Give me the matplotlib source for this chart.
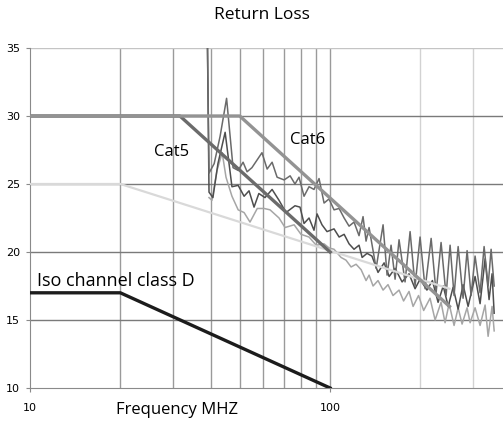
import matplotlib
matplotlib.use("Agg")
import matplotlib.pyplot as plt
from matplotlib.ticker import FixedLocator, NullLocator

# limit lines (frequency MHz, return loss dB)
cat6_freq = [10, 50, 250]
cat6_db = [30, 30, 16.0]
cat5_freq = [10, 31.6, 100]
cat5_db = [30, 30, 20]
light_freq = [10, 20, 250]
light_db = [25, 25, 17.3]
iso_d_freq = [10, 20, 100]
iso_d_db = [17, 17, 10]

# measured traces
t1_freq = [39.0, 39.5, 41.1, 43.0, 45.2, 47.5, 49.4, 51.3, 52.9, 54.9,
           59.3, 61.7, 64.1, 66.6, 70.3, 73.6, 76.4, 78.8, 81.9, 85.1,
           88.4, 91.9, 95.5, 99.2, 103.1, 107.2, 111.4, 115.7, 120.2, 124.9,
           128.8, 131.8, 134.9, 142.4, 150.2, 154.9, 159.7, 164.7, 169.8, 177.8,
           184.8, 192.0, 199.5, 207.4, 217.2, 225.6, 234.4, 243.6, 251.2, 259.0,
           267.2, 277.5, 286.2, 295.1, 304.3, 316.2, 326.1, 336.3, 344.1, 352.3]
t1_db = [36.0, 25.8, 26.5, 28.5, 31.3, 26.2, 26.0, 26.6, 25.9, 26.2,
         27.3, 26.1, 26.6, 25.5, 25.3, 25.6, 25.0, 25.5, 24.1, 24.8,
         24.6, 25.4, 23.6, 23.9, 23.1, 23.2, 22.5, 21.9, 22.2, 21.2,
         22.6, 20.8, 21.8, 18.8, 22.0, 18.3, 20.5, 18.0, 20.9, 17.8,
         21.5, 17.5, 21.1, 17.3, 21.0, 17.0, 20.7, 16.8, 20.5, 16.8,
         20.4, 16.6, 20.1, 16.8, 19.7, 17.0, 20.4, 17.5, 20.2, 17.5]

t2_freq = [39.0, 39.5, 40.7, 42.3, 44.7, 47.1, 49.4, 51.7, 53.7, 55.8,
           57.9, 60.7, 64.1, 67.6, 71.3, 76.4, 79.4, 81.9, 85.1, 88.4,
           90.5, 94.0, 97.7, 103.1, 107.2, 111.4, 115.7, 120.2, 124.9, 127.9,
           132.8, 137.9, 144.5, 151.4, 157.4, 164.7, 173.8, 183.3, 192.0, 199.5,
           210.3, 219.3, 229.1, 238.3, 247.6, 257.0, 267.2, 277.5, 288.4, 304.3,
           316.2, 328.6, 338.8, 346.7, 352.3]
t2_db = [36.0, 24.4, 24.0, 26.5, 28.8, 24.8, 24.9, 24.1, 24.5, 23.3,
         24.3, 24.0, 24.6, 23.8, 22.9, 23.4, 23.3, 22.1, 22.5, 21.6,
         22.8, 22.0, 21.5, 21.7, 21.1, 21.3, 20.6, 20.2, 20.5, 19.6,
         19.9, 19.7, 18.5, 19.2, 18.2, 18.8, 17.8, 18.4, 17.3, 18.0,
         17.2, 17.9, 16.3, 17.5, 16.0, 17.4, 15.8, 17.6, 16.0, 18.2,
         16.2, 19.5, 16.5, 18.4, 15.5]

t3_freq = [39.5, 40.4, 42.0, 43.7, 45.0, 47.1, 49.4, 51.7, 54.1, 57.2,
           60.3, 63.1, 67.6, 70.8, 75.9, 80.0, 85.1, 89.9, 95.5, 99.2,
           103.1, 108.8, 113.0, 117.5, 122.1, 126.9, 131.8, 134.9, 139.1, 144.5,
           150.2, 156.0, 162.1, 169.8, 175.8, 183.3, 189.1, 197.2, 205.1, 215.4,
           223.9, 234.4, 241.7, 249.3, 259.0, 267.2, 275.4, 286.2, 292.9, 304.3,
           316.2, 328.6, 336.3, 346.7, 352.3]
t3_db = [24.0, 23.8, 26.0, 27.3, 25.5, 24.1, 23.1, 22.9, 22.2, 23.2,
         23.2, 23.1, 22.5, 21.8, 22.0, 21.3, 21.1, 20.5, 20.6, 20.3,
         20.2, 19.6, 19.4, 18.9, 19.1, 18.7, 17.9, 18.3, 17.5, 17.9,
         17.2, 17.6, 16.8, 17.2, 16.4, 17.1, 16.0, 16.8, 15.7, 16.6,
         15.0, 16.3, 14.8, 16.2, 14.6, 15.9, 14.7, 15.9, 14.8, 15.9,
         14.6, 16.1, 13.8, 16.0, 14.2]

x_ticks = [10, 100]
y_ticks = [10, 15, 20, 25, 30, 35]

plt.rcParams["font.family"] = ["Open Sans", "DejaVu Sans"]

fig = plt.figure(figsize=(5.03, 4.21), dpi=100)
ax = fig.add_axes([30 / 503, 33 / 421, 473 / 503, 340 / 421])

ax.set_xscale("log")
ax.set_xlim(10, 377)
ax.set_ylim(10, 35)

# grid
for f in [20, 30, 40, 50, 60, 70, 80, 90, 100]:
    ax.axvline(f, color="#9a9a9a", lw=1.0, zorder=1)
for f in [200, 300]:
    ax.axvline(f, color="#d2d2d2", lw=1.0, zorder=1)
for v in [15, 20, 25, 30]:
    ax.axhline(v, color="#7a7a7a", lw=1.0, zorder=1)
ax.axhline(35, color="#c4c4c4", lw=1.0, zorder=1)

# measured traces
ax.plot(t3_freq, t3_db, color="#a6a6a6", lw=1.1, zorder=2)
ax.plot(t2_freq, t2_db, color="#4e4e4e", lw=1.1, zorder=2)
ax.plot(t1_freq, t1_db, color="#6a6a6a", lw=1.1, zorder=2)

# limit lines
ax.plot(light_freq, light_db, color="#d9d9d9", lw=1.6, zorder=3)
ax.plot(cat5_freq, cat5_db, color="#6b6b6b", lw=2.4, zorder=3)
ax.plot(cat6_freq, cat6_db, color="#939393", lw=2.4, zorder=3)
ax.plot(iso_d_freq, iso_d_db, color="#1c1c1c", lw=2.4, zorder=3)

ax.text(29.7, 27.35, "Cat5", fontsize=12, ha="center", va="center", zorder=4)
ax.text(84.0, 28.2, "Cat6", fontsize=12, ha="center", va="center", zorder=4)
ax.text(10.55, 17.9, "Iso channel class D", fontsize=13, ha="left", va="center", zorder=4)

for side in ["top", "right"]:
    ax.spines[side].set_visible(False)
ax.spines["left"].set_color("#8a8a8a")
ax.spines["bottom"].set_color("#8a8a8a")

ax.xaxis.set_major_locator(FixedLocator(x_ticks))
ax.xaxis.set_minor_locator(NullLocator())
ax.set_xticklabels([str(t) for t in x_ticks])
ax.set_yticks(y_ticks)
ax.set_yticklabels([str(t) for t in y_ticks])
ax.tick_params(axis="both", length=3, color="#8a8a8a", labelsize=8)
ax.tick_params(axis="x", pad=8)
ax.tick_params(axis="y", pad=4)
for lbl in ax.get_xticklabels() + ax.get_yticklabels():
    lbl.set_family(["Liberation Sans Narrow", "DejaVu Sans"])

fig.text(262 / 503, 1 - 15 / 421, "Return Loss", fontsize=12.5, ha="center", va="center")
fig.text(177 / 503, 1 - 410 / 421, "Frequency MHZ", fontsize=12, ha="center", va="center")

fig.savefig("out.png", dpi=100)
